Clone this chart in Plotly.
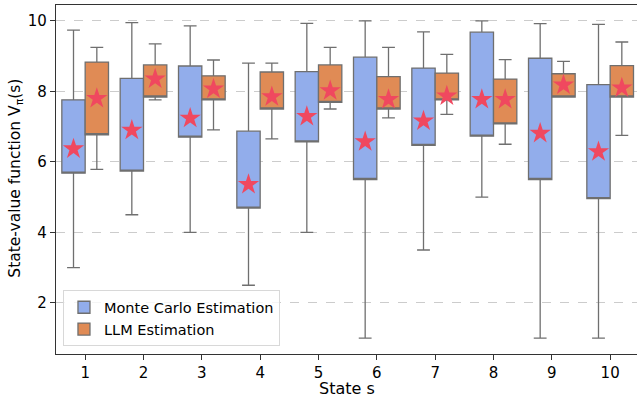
import plotly.graph_objects as go

states = [1, 2, 3, 4, 5, 6, 7, 8, 9, 10]

mc_low = [3.0, 4.5, 4.0, 2.5, 4.0, 1.0, 3.5, 5.0, 1.0, 1.0]
mc_q1 = [5.68, 5.74, 6.70, 4.69, 6.57, 5.50, 6.47, 6.73, 5.50, 4.96]
mc_q3 = [7.76, 8.37, 8.72, 6.87, 8.56, 8.97, 8.66, 9.68, 8.94, 8.19]
mc_high = [9.74, 9.95, 9.86, 8.80, 9.93, 10.0, 9.69, 10.0, 9.92, 9.90]
mc_mean = [6.37, 6.90, 7.24, 5.36, 7.29, 6.57, 7.16, 7.77, 6.81, 6.29]

llm_low = [5.79, 7.76, 6.91, 6.65, 7.50, 7.25, 7.35, 6.50, 7.84, 6.75]
llm_q1 = [6.77, 7.84, 7.76, 7.50, 7.69, 7.50, 7.76, 7.08, 7.84, 7.84]
llm_q3 = [8.83, 8.75, 8.44, 8.55, 8.75, 8.42, 8.52, 8.35, 8.50, 8.73]
llm_high = [9.25, 9.35, 8.89, 8.80, 9.25, 9.25, 9.05, 8.90, 8.85, 9.40]
llm_mean = [7.80, 8.35, 8.07, 7.85, 8.02, 7.77, 7.87, 7.77, 8.18, 8.10]

x_title = "State s"
y_title = "State-value function V<sub>π</sub>(s)"

offset = 0.2
box_w = 0.4
mc_x = [s - offset for s in states]
llm_x = [s + offset for s in states]

blue = "#92adeb"
orange = "#e08b55"
edge = "#6f6f6f"
star = "#f0485f"

fig = go.Figure()
fig.add_trace(go.Box(
    x=mc_x, q1=mc_q1, median=mc_q1, q3=mc_q3,
    lowerfence=mc_low, upperfence=mc_high,
    width=box_w, fillcolor=blue, line=dict(color=edge, width=1.3),
    whiskerwidth=0.55, name="Monte Carlo Estimation", boxpoints=False,
    hoverinfo="skip",
))
fig.add_trace(go.Box(
    x=llm_x, q1=llm_q1, median=llm_q1, q3=llm_q3,
    lowerfence=llm_low, upperfence=llm_high,
    width=box_w, fillcolor=orange, line=dict(color=edge, width=1.3),
    whiskerwidth=0.55, name="LLM Estimation", boxpoints=False,
    hoverinfo="skip",
))
fig.add_trace(go.Scatter(
    x=mc_x, y=mc_mean, mode="markers", showlegend=False,
    marker=dict(symbol="star", size=16, color=star, line=dict(width=0)),
))
fig.add_trace(go.Scatter(
    x=llm_x, y=llm_mean, mode="markers", showlegend=False,
    marker=dict(symbol="star", size=16, color=star, line=dict(width=0)),
))

font = "DejaVu Sans"
fig.update_layout(
    width=637, height=400,
    margin=dict(l=56, r=0, t=5, b=46, autoexpand=False),
    plot_bgcolor="white", paper_bgcolor="white",
    font=dict(family=font, size=15, color="black"),
    showlegend=True,
    legend=dict(
        x=0.012, y=0.022, xanchor="left", yanchor="bottom",
        bgcolor="rgba(255,255,255,0.8)", bordercolor="#d8d8d8", borderwidth=1,
        font=dict(size=14.5), tracegroupgap=0, itemwidth=30,
    ),
    xaxis=dict(
        range=[0.5, 10.46], tickmode="array", tickvals=states,
        ticktext=[str(s) for s in states],
        showgrid=False, zeroline=False, automargin=False,
        showline=True, linecolor="#333333", linewidth=1.3, mirror=True,
        ticks="outside", ticklen=5, tickcolor="#333333",
    ),
    yaxis=dict(
        range=[0.55, 10.45], tickvals=[2, 4, 6, 8, 10],
        showgrid=True, gridcolor="#cccccc", griddash="dash", gridwidth=1,
        zeroline=False, automargin=False,
        showline=True, linecolor="#333333", linewidth=1.3,
        ticks="outside", ticklen=5, tickcolor="#333333",
    ),
    annotations=[
        dict(text=x_title, xref="paper", yref="paper", x=0.5, y=-0.098,
             xanchor="center", yanchor="middle", showarrow=False,
             font=dict(family=font, size=16, color="black")),
        dict(text=y_title, xref="paper", yref="paper", x=-0.069, y=0.505,
             xanchor="center", yanchor="middle", showarrow=False, textangle=-90,
             font=dict(family=font, size=15.5, color="black")),
    ],
)

fig.write_html(
    "out.html",
    config={"displayModeBar": False},
    post_script="document.body.style.margin='0px';document.body.style.overflow='hidden';",
)
